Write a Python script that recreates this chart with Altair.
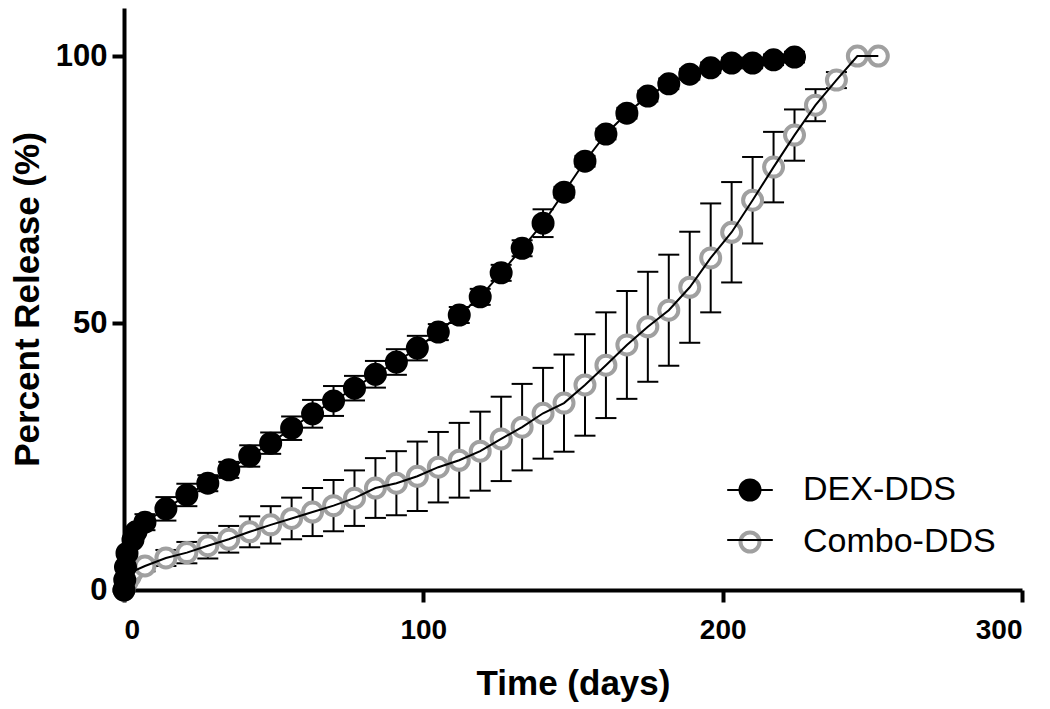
import altair as alt
import pandas as pd

# ---- data ----
dex_day = [0, 0.25, 0.5, 1, 3, 4,
           7, 14, 21, 28, 35, 42, 49, 56, 63, 70, 77, 84, 91, 98, 105, 112,
           119, 126, 133, 140, 147, 154, 161, 168, 175, 182, 189, 196, 203,
           210, 217, 224]
dex_pct = [0, 1.9, 4.3, 6.9, 9.4, 10.9,
           12.7, 15.2, 17.8, 20.0, 22.5, 25.1, 27.5, 30.3, 33.0, 35.4, 37.8,
           40.4, 42.7, 45.3, 48.3, 51.5, 54.9, 59.4, 64.0, 68.7, 74.5, 80.3,
           85.4, 89.3, 92.5, 94.8, 96.6, 97.8, 98.7, 98.7, 99.3, 99.8]
dex_err = [0.3, 0.3, 0.3, 0.5, 0.5, 0.5,
           1.5, 2.2, 2.1, 1.5, 1.5, 2.0, 2.0, 2.2, 2.6, 2.8, 2.3, 2.5, 2.4,
           2.3, 1.5, 1.5, 1.5, 1.5, 1.5, 2.6, 1.0, 1.0, 1.0, 1.0, 1.0, 1.0,
           1.0, 1.0, 1.0, 1.0, 1.0, 1.0]

combo_day = [0, 1, 2, 3,
             7, 14, 21, 28, 35, 42, 49, 56, 63, 70, 77, 84, 91, 98, 105, 112,
             119, 126, 133, 140, 147, 154, 161, 168, 175, 182, 189, 196, 203,
             210, 217, 224, 231, 238, 245, 252]
combo_pct = [0, 1.5, 2.5, 3.5,
             4.5, 6.0, 7.0, 8.3, 9.5, 10.9, 12.2, 13.4, 14.6, 15.8, 17.2, 19.1,
             20.0, 21.3, 23.0, 24.3, 26.0, 28.3, 30.5, 33.1, 35.0, 38.4, 42.1,
             45.9, 49.3, 52.4, 56.7, 62.2, 67.0, 73.0, 79.2, 85.2, 90.8, 95.5,
             100.0, 100.0]
combo_err = [0.3, 0.5, 0.5, 0.5,
             1.0, 1.5, 2.0, 2.4, 2.5, 2.9, 3.5, 3.9, 4.5, 4.8, 5.2, 5.6, 6.0,
             6.5, 6.6, 7.0, 7.4, 7.9, 8.1, 8.5, 9.1, 9.5, 9.9, 10.1, 10.3,
             10.4, 10.4, 10.2, 9.4, 8.1, 6.6, 4.8, 3.0, 1.5, 0.5, 0.5]

series_names = ["DEX-DDS", "Combo-DDS"]
fill_colors = ["#000000", "#ffffff"]
stroke_colors = ["#000000", "#a0a0a0"]

rows = []
for d, v, e in zip(combo_day, combo_pct, combo_err):
    rows.append({"series": "Combo-DDS", "day": d, "pct": v, "lo": v - e, "hi": v + e})
for d, v, e in zip(dex_day, dex_pct, dex_err):
    rows.append({"series": "DEX-DDS", "day": d, "pct": v, "lo": v - e, "hi": v + e})
df = pd.DataFrame(rows)
df["series_line"] = df["series"]

FONT = "Liberation Sans"

xscale = alt.Scale(domain=[0, 300], nice=False, zero=False)
yscale = alt.Scale(domain=[0, 109], nice=False, zero=False)
xaxis = alt.Axis(values=[0, 100, 200, 300], title="Time (days)", labelPadding=14,
                 titlePadding=22, labelFontSize=28, titleFontSize=35)
yaxis = alt.Axis(values=[0, 50, 100], title="Percent Release (%)", labelPadding=5,
                 titlePadding=10, labelFontSize=31, titleFontSize=35)

X = alt.X("day:Q", scale=xscale, axis=xaxis)


def Y(field):
    return alt.Y(field, scale=yscale, axis=yaxis, title="Percent Release (%)")


base = alt.Chart(df)

bars = base.mark_rule(color="black", strokeWidth=2).encode(
    x=X, y=Y("lo:Q"), y2="hi:Q"
)
cap_lo = base.mark_tick(orient="horizontal", size=21, thickness=2, color="black",
                        opacity=1).encode(x=X, y=Y("lo:Q"))
cap_hi = base.mark_tick(orient="horizontal", size=21, thickness=2, color="black",
                        opacity=1).encode(x=X, y=Y("hi:Q"))

LEG_X, LEG_Y = 609, 465

legend_pts = alt.Legend(
    orient="none", legendX=LEG_X, legendY=LEG_Y, title=None, padding=0,
    labelFont=FONT, labelFontSize=34, labelFontWeight="normal", labelColor="black",
    labelLimit=400, symbolType="circle", symbolSize=361, symbolStrokeWidth=4,
    labelOffset=36, rowPadding=16, symbolOpacity=1, zindex=1,
)

points = base.mark_point(shape="circle", size=361, strokeWidth=4, filled=True,
                         opacity=1).encode(
    x=X, y=Y("pct:Q"),
    fill=alt.Fill("series:N", scale=alt.Scale(domain=series_names, range=fill_colors),
                  legend=legend_pts),
    stroke=alt.Stroke("series:N", scale=alt.Scale(domain=series_names, range=stroke_colors),
                      legend=legend_pts),
)

legend_line = alt.Legend(
    orient="none", legendX=LEG_X, legendY=LEG_Y, title=None, padding=0,
    labelFont=FONT, labelFontSize=34, labelFontWeight="normal", labelOpacity=0,
    labelLimit=400, labelOffset=36, symbolType="M-2.4,0H2.4", symbolSize=361,
    symbolStrokeWidth=2, symbolStrokeColor="black", symbolFillColor="transparent",
    rowPadding=16, zindex=2,
)

lines = base.mark_line(color="black", strokeWidth=2).encode(
    x=X, y=Y("pct:Q"),
    opacity=alt.Opacity("series_line:N", sort=series_names,
                        scale=alt.Scale(range=[1, 1]), legend=legend_line),
)

chart = alt.layer(bars, cap_lo, cap_hi, points, lines).properties(
    width=898, height=582,
    autosize=alt.AutoSizeParams(type="none"),
    padding={"left": 116, "top": 0, "right": 20, "bottom": 118},
).configure_view(stroke=None).configure_axis(
    grid=False, domainColor="black", domainWidth=4, tickColor="black", tickWidth=4,
    tickSize=12, labelFont=FONT, labelFontWeight="bold",
    labelColor="black", titleFont=FONT, titleFontWeight="bold",
    titleColor="black",
)

chart.save("out.html", embed_options={"renderer": "svg", "actions": False})
